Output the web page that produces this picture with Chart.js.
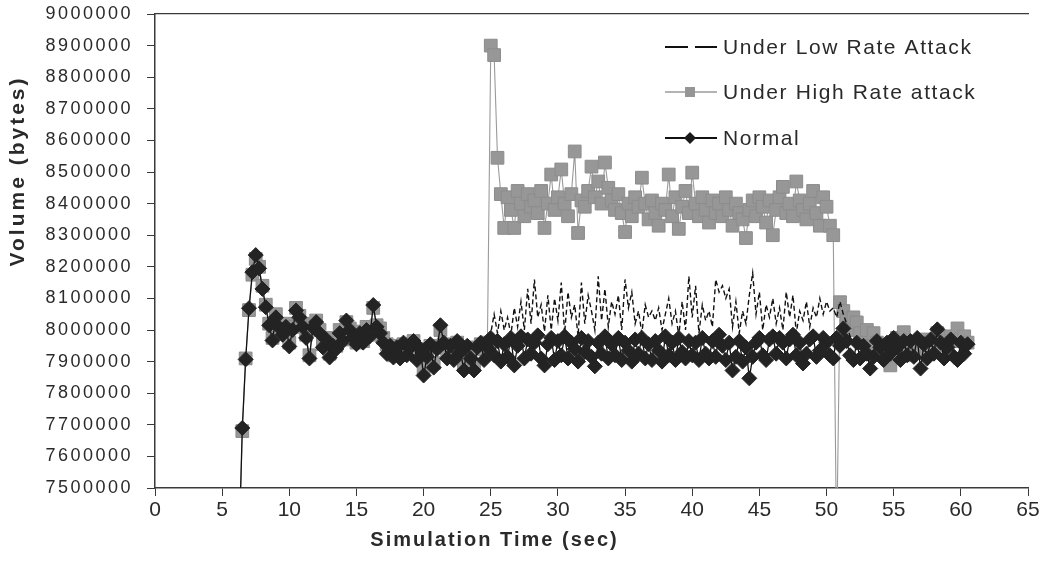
<!DOCTYPE html>
<html>
<head>
<meta charset="utf-8">
<title>Volume vs Simulation Time</title>
<script src="https://cdn.jsdelivr.net/npm/chart.js@4.4.1/dist/chart.umd.min.js"></script>
<style>
  html, body { margin: 0; padding: 0; background: #fff; }
  canvas { display: block; }
</style>
</head>
<body>
<canvas id="volChart" width="1055" height="574"></canvas>
<script>
//---------------- DATA ----------------
// axis ticks
const xTickValues = [0, 5, 10, 15, 20, 25, 30, 35, 40, 45, 50, 55, 60, 65];
const yTickValues = [7500000, 7600000, 7700000, 7800000, 7900000, 8000000, 8100000, 8200000,
  8300000, 8400000, 8500000, 8600000, 8700000, 8800000, 8900000, 9000000];

// sampling grids (sec)
const normalStart = 6.25, normalStep = 0.25;
const highStart = 6.25, highStep = 0.25;
const lowStart = 24.75, lowStep = 0.25;

// Normal traffic volume (bytes), every 0.25 s from 6.25 s (8 values = 2 s per row)
const normalVolume = [
  7300000, 7690000, 7907000, 8069000, 8183000, 8237000, 8195000, 8130000,
  8072000, 8015000, 7967000, 8040000, 8008000, 7985000, 8010000, 7948000,
  8000000, 8062000, 8040000, 8010000, 7975000, 7910000, 8008000, 8025000,
  7990000, 7945000, 7970000, 7913000, 7950000, 7940000, 7990000, 7965000,
  8030000, 8000000, 7977000, 7955000, 7990000, 7960000, 8000000, 7980000,
  8079000, 8010000, 7990000, 7960000, 7925000, 7950000, 7913000, 7945000,
  7910000, 7960000, 7920000, 7945000, 7965000, 7905000, 7940000, 7856000,
  7915000, 7955000, 7881000, 7940000, 8015000, 7960000, 7910000, 7950000,
  7905000, 7965000, 7930000, 7872000, 7950000, 7910000, 7872000, 7945000,
  7960000, 7905000, 7945000, 7975000, 7920000, 7965000, 7900000, 7955000,
  7915000, 7975000, 7888000, 7950000, 7980000, 7910000, 7970000, 7925000,
  7960000, 7983000, 7910000, 7888000, 7955000, 7975000, 7905000, 7965000,
  7920000, 7980000, 7910000, 7960000, 7940000, 7900000, 7975000, 7930000,
  7965000, 7915000, 7885000, 7960000, 7925000, 7980000, 7910000, 7955000,
  7920000, 7975000, 7905000, 7960000, 7935000, 7900000, 7970000, 7925000,
  7975000, 7910000, 7955000, 7905000, 7965000, 7935000, 7900000, 7980000,
  7920000, 7960000, 7905000, 7975000, 7930000, 7910000, 7965000, 7920000,
  7960000, 7905000, 7975000, 7925000, 7910000, 7965000, 7915000, 7985000,
  7950000, 7905000, 7960000, 7872000, 7915000, 7965000, 7900000, 7945000,
  7847000, 7915000, 7960000, 7975000, 7920000, 7905000, 7970000, 7980000,
  7925000, 7975000, 7960000, 7910000, 7970000, 7985000, 7920000, 7960000,
  7894000, 7925000, 7970000, 7980000, 7915000, 7935000, 7975000, 7960000,
  7920000, 7910000, 7975000, 7950000, 8005000, 7965000, 7920000, 7905000,
  7960000, 7910000, 7950000, 7925000, 7878000, 7915000, 7965000, 7945000,
  7905000, 7960000, 7925000, 7975000, 7945000, 7905000, 7965000, 7920000,
  7965000, 7915000, 7975000, 7878000, 7955000, 7910000, 7970000, 7925000,
  8002000, 7960000, 7910000, 7945000, 7970000, 7915000, 7905000, 7960000,
  7925000, 7955000
];

// Under high rate attack, every 0.25 s from 6.25 s
const highVolume = [
  7300000, 7680000, 7910000, 8063000, 8175000, 8225000, 8200000, 8140000,
  8080000, 8020000, 7975000, 8050000, 8015000, 7990000, 8020000, 7960000,
  8010000, 8070000, 8045000, 8020000, 7985000, 7920000, 8015000, 8030000,
  8000000, 7955000, 7975000, 7925000, 7960000, 7950000, 8000000, 7970000,
  8025000, 8005000, 7985000, 7960000, 7995000, 7965000, 8010000, 7985000,
  8070000, 8015000, 8005000, 7975000, 7955000, 7940000, 7920000, 7950000,
  7935000, 7955000, 7930000, 7945000, 7965000, 7920000, 7940000, 7880000,
  7925000, 7950000, 7895000, 7945000, 8000000, 7955000, 7935000, 7950000,
  7925000, 7960000, 7940000, 7890000, 7945000, 7930000, 7890000, 7940000,
  7955000, 7940000, 7960000, 8900000, 8870000, 8545000, 8430000, 8323000,
  8420000, 8380000, 8323000, 8440000, 8400000, 8360000, 8430000, 8390000,
  8410000, 8370000, 8440000, 8323000, 8400000, 8492000, 8380000, 8420000,
  8508000, 8400000, 8360000, 8430000, 8565000, 8307000, 8410000, 8390000,
  8440000, 8517000, 8420000, 8470000, 8400000, 8530000, 8450000, 8410000,
  8380000, 8430000, 8370000, 8310000, 8400000, 8360000, 8420000, 8390000,
  8482000, 8400000, 8350000, 8410000, 8370000, 8330000, 8400000, 8380000,
  8492000, 8360000, 8420000, 8320000, 8390000, 8440000, 8370000, 8498000,
  8400000, 8360000, 8420000, 8380000, 8340000, 8410000, 8370000, 8400000,
  8360000, 8420000, 8380000, 8330000, 8400000, 8370000, 8350000, 8291000,
  8380000, 8410000, 8360000, 8420000, 8390000, 8340000, 8410000, 8300000,
  8380000, 8420000, 8453000, 8370000, 8400000, 8360000, 8470000, 8410000,
  8380000, 8350000, 8400000, 8440000, 8370000, 8330000, 8420000, 8390000,
  8330000, 8300000, 7300000, 8088000, 8060000, 8030000, 8000000, 8040000,
  8024000, 7990000, 7960000, 8000000, 7950000, 7990000, 7960000, 7930000,
  7945000, 7910000, 7888000, 7950000, 7975000, 7960000, 7993000, 7945000,
  7920000, 7960000, 7950000, 7930000, 7970000, 7945000, 7960000, 7935000,
  7990000, 7960000, 7975000, 7950000, 7980000, 7965000, 8005000, 7970000,
  7980000, 7960000
];

// Under low rate attack, every 0.25 s from 24.75 s (10 values per row)
const lowVolume = [
  7950000, 7990000, 8050000, 7990000, 8060000, 8000000, 8040000, 7985000, 8070000, 8010000,
  8090000, 8000000, 8130000, 8020000, 8160000, 8040000, 8080000, 7995000, 8110000, 8000000,
  8100000, 8030000, 8150000, 7990000, 8120000, 8040000, 8080000, 7980000, 8150000, 8020000,
  8110000, 8060000, 8000000, 8170000, 8030000, 8130000, 8010000, 8090000, 8050000, 8110000,
  8000000, 8160000, 8070000, 8120000, 8020000, 8060000, 7990000, 8080000, 8040000, 8060000,
  8030000, 8070000, 8000000, 8050000, 8100000, 8020000, 8060000, 7980000, 8090000, 8000000,
  8170000, 8040000, 8140000, 7990000, 8080000, 8030000, 8060000, 8010000, 8160000, 8120000,
  8140000, 8100000, 8130000, 8010000, 8090000, 7990000, 8060000, 8020000, 8110000, 8180000,
  8050000, 8120000, 8000000, 8080000, 8040000, 8100000, 8020000, 8070000, 8000000, 8120000,
  8040000, 8110000, 7990000, 8060000, 8030000, 8090000, 8010000, 8070000, 8040000, 8100000,
  8050000, 8090000, 8060000, 8070000, 8040000, 8090000, 8050000, 8020000, 7980000, 7960000
];

const seriesNames = ["Under Low Rate Attack", "Under High Rate attack", "Normal"];

//---------------- HELPERS ----------------
function toPoints(values, start, step) {
  return values.map((v, i) => ({ x: start + i * step, y: v }));
}

const FONT = '"Liberation Sans", Arial, sans-serif';
const TEXT = "#2a2a2a";
const AXIS = "#3a3a3a";

// per-axis letter spacing and offsets
const labelSpacing = { x: "0px", y: "2.5px" };
const labelShift = { x: [0, 0], y: [-14, 0] };
const titleSpacing = { x: "2px", y: "3px" };
const titleShift = { x: [-97, 0], y: [0, -80] };

// linear scale with wider text
class SpacedScale extends Chart.LinearScale {
  drawLabels(area) {
    const ctx = this.ctx;
    const shift = labelShift[this.id] || [0, 0];
    ctx.save();
    ctx.letterSpacing = labelSpacing[this.id] || "0px";
    ctx.translate(shift[0], shift[1]);
    super.drawLabels(area);
    ctx.restore();
  }
  drawTitle() {
    const ctx = this.ctx;
    const shift = titleShift[this.id] || [0, 0];
    ctx.save();
    ctx.letterSpacing = titleSpacing[this.id] || "0px";
    ctx.translate(shift[0], shift[1]);
    super.drawTitle();
    ctx.restore();
  }
}
SpacedScale.id = "spacedLinear";
Chart.register(SpacedScale);

// legend drawn inside the plot, top right
const insideLegend = {
  id: "insideLegend",
  afterDraw(chart) {
    const ctx = chart.ctx;
    const x0 = 665, x1 = 717, tx = 723;
    const rows = [47, 92, 138];
    ctx.save();
    ctx.lineCap = "butt";

    // low rate: dashed black
    ctx.strokeStyle = "#111";
    ctx.lineWidth = 2;
    ctx.setLineDash([23, 7]);
    ctx.beginPath();
    ctx.moveTo(x0, rows[0]);
    ctx.lineTo(x1, rows[0]);
    ctx.stroke();
    ctx.setLineDash([]);

    // high rate: grey line + square
    ctx.strokeStyle = "#9a9a9a";
    ctx.lineWidth = 1.3;
    ctx.beginPath();
    ctx.moveTo(x0, rows[1]);
    ctx.lineTo(x1, rows[1]);
    ctx.stroke();
    ctx.fillStyle = "#959595";
    ctx.fillRect(685, rows[1] - 5, 10, 10);

    // normal: black line + diamond
    ctx.strokeStyle = "#111";
    ctx.lineWidth = 2;
    ctx.beginPath();
    ctx.moveTo(x0, rows[2]);
    ctx.lineTo(x1, rows[2]);
    ctx.stroke();
    ctx.fillStyle = "#1a1a1a";
    ctx.beginPath();
    ctx.moveTo(690, rows[2] - 6);
    ctx.lineTo(696, rows[2]);
    ctx.lineTo(690, rows[2] + 6);
    ctx.lineTo(684, rows[2]);
    ctx.closePath();
    ctx.fill();

    ctx.fillStyle = TEXT;
    ctx.font = "21px " + FONT;
    ctx.letterSpacing = "1.6px";
    ctx.textBaseline = "middle";
    ctx.textAlign = "left";
    seriesNames.forEach((name, i) => ctx.fillText(name, tx, rows[i] + 1));
    ctx.restore();
  }
};

//---------------- CHART ----------------
const ctx = document.getElementById("volChart").getContext("2d");
new Chart(ctx, {
  type: "line",
  data: {
    datasets: [
      {
        label: seriesNames[2],
        data: toPoints(normalVolume, normalStart, normalStep),
        borderColor: "#111",
        borderWidth: 1.3,
        pointStyle: "rectRot",
        pointRadius: 7.5,
        pointBackgroundColor: "#232323",
        pointBorderColor: "#232323",
        pointBorderWidth: 1,
        tension: 0,
        clip: 0
      },
      {
        label: seriesNames[0],
        data: toPoints(lowVolume, lowStart, lowStep),
        borderColor: "#111",
        borderWidth: 1.4,
        borderDash: [5, 3],
        pointRadius: 0,
        tension: 0,
        clip: 0
      },
      {
        label: seriesNames[1],
        data: toPoints(highVolume, highStart, highStep),
        borderColor: "#9a9a9a",
        borderWidth: 1.1,
        pointStyle: "rect",
        pointRadius: 9,
        pointBackgroundColor: "#979797",
        pointBorderColor: "#8c8c8c",
        pointBorderWidth: 1,
        tension: 0,
        clip: 0
      }
    ]
  },
  options: {
    responsive: false,
    animation: false,
    events: [],
    layout: { padding: { left: 0, right: 27, top: 14, bottom: 0 } },
    plugins: {
      legend: { display: false },
      tooltip: { enabled: false }
    },
    scales: {
      x: {
        type: "spacedLinear",
        position: "bottom",
        min: 0,
        max: 65,
        afterBuildTicks: (s) => { s.ticks = xTickValues.map((v) => ({ value: v })); },
        afterFit: (s) => { s.height = 86; },
        grid: { display: true, drawOnChartArea: false, drawTicks: true, tickLength: 8, color: AXIS, lineWidth: 1 },
        border: { display: true, color: AXIS, width: 1.5 },
        ticks: {
          autoSkip: false,
          maxRotation: 0,
          padding: 2,
          color: TEXT,
          font: { family: FONT, size: 21 },
          callback: (v) => String(v)
        },
        title: {
          display: true,
          text: "Simulation Time (sec)",
          color: TEXT,
          font: { family: FONT, size: 20, weight: "bold" },
          padding: { top: 0, bottom: 22 }
        }
      },
      xTop: {
        type: "linear",
        position: "top",
        display: true,
        afterFit: (s) => { s.height = 0; },
        grid: { display: false },
        ticks: { display: false },
        border: { display: true, color: AXIS, width: 1.2 }
      },
      y: {
        type: "spacedLinear",
        min: 7500000,
        max: 9000000,
        afterBuildTicks: (s) => { s.ticks = yTickValues.map((v) => ({ value: v })); },
        afterFit: (s) => { s.width = 155; },
        grid: { display: true, drawOnChartArea: false, drawTicks: true, tickLength: 8, color: AXIS, lineWidth: 1 },
        border: { display: true, color: AXIS, width: 1.5 },
        ticks: {
          autoSkip: false,
          padding: 0,
          color: TEXT,
          font: { family: FONT, size: 18 },
          callback: (v) => String(v)
        },
        title: {
          display: true,
          text: "Volume (bytes)",
          color: TEXT,
          font: { family: FONT, size: 21, weight: "bold" },
          padding: { top: 6, bottom: 0 }
        }
      }
    }
  },
  plugins: [insideLegend]
});
</script>
</body>
</html>
